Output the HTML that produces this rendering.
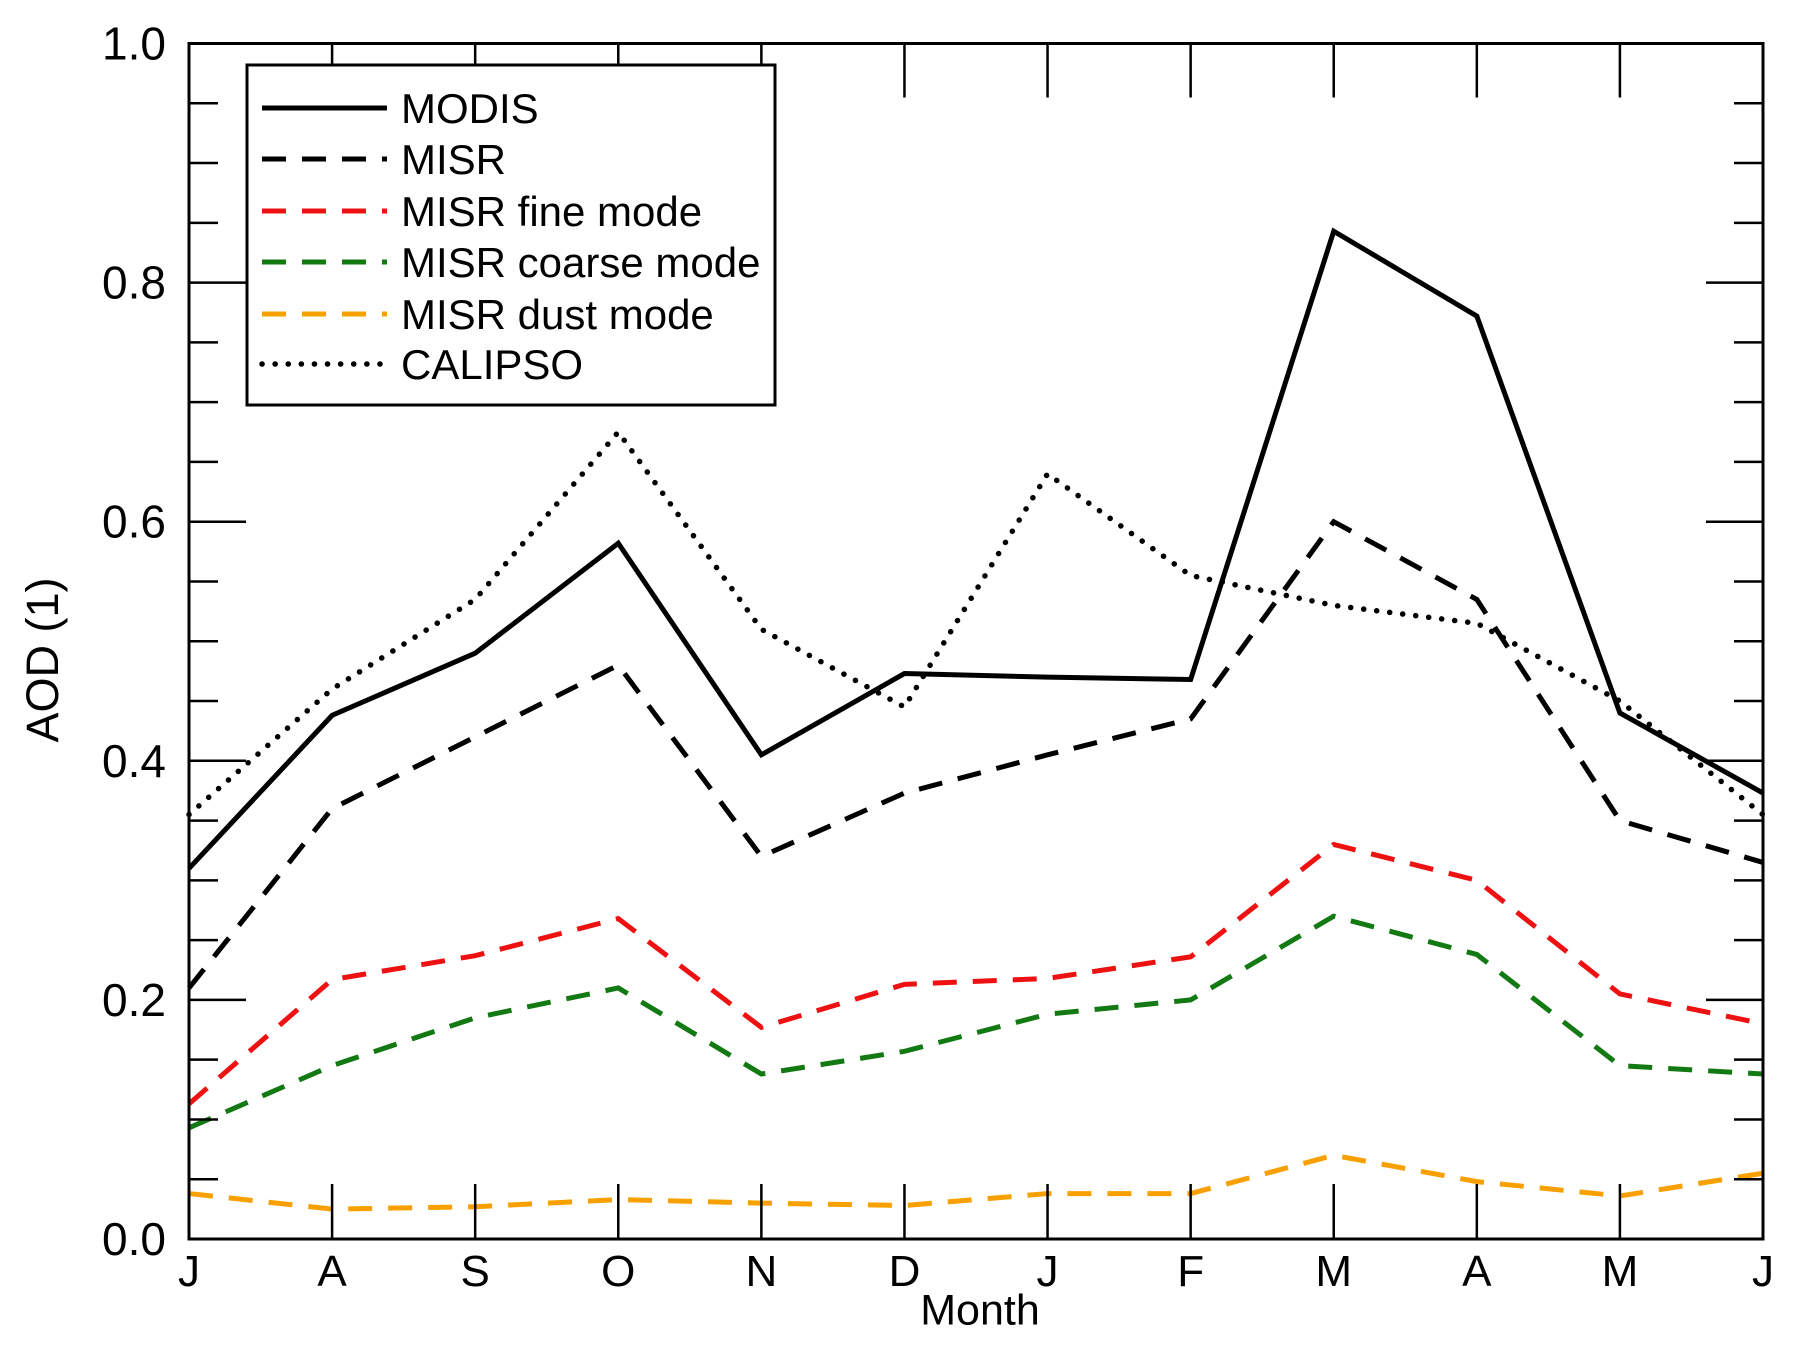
<!DOCTYPE html>
<html><head><meta charset="utf-8"><style>
html,body{margin:0;padding:0;background:#fff;}
svg{display:block;font-family:"Liberation Sans",sans-serif;}
</style></head><body>
<svg id="chart" width="1795" height="1350" viewBox="0 0 1795 1350">
<g id="marks"></g>
<g id="axes"></g>
<g>
<rect x="247" y="65" width="528" height="340" fill="#fff" stroke="#000" stroke-width="3"/>
<g id="legend"></g>
</g>
<text x="46" y="660" font-size="45" text-anchor="middle" transform="rotate(-90 46 660)" dominant-baseline="middle">AOD (1)</text>
<text x="980" y="1313" font-size="43" text-anchor="middle" dominant-baseline="middle">Month</text>
</svg>
<script>
const months = ["J","A","S","O","N","D","J","F","M","A","M","J"];
const modis = [0.31,0.438,0.49,0.582,0.405,0.473,0.47,0.468,0.843,0.772,0.44,0.373];
const misr = [0.21,0.36,0.42,0.48,0.32,0.373,0.405,0.435,0.60,0.535,0.35,0.315];
const misrFine = [0.113,0.217,0.237,0.268,0.177,0.213,0.218,0.236,0.33,0.30,0.205,0.18];
const misrCoarse = [0.093,0.145,0.185,0.21,0.138,0.157,0.188,0.2,0.27,0.238,0.145,0.138];
const misrDust = [0.038,0.025,0.027,0.033,0.03,0.028,0.038,0.038,0.07,0.048,0.036,0.055];
const calipso = [0.355,0.46,0.535,0.675,0.51,0.445,0.64,0.555,0.53,0.515,0.45,0.355];
const yTickLabels = ["0.0","0.2","0.4","0.6","0.8","1.0"];

const NS="http://www.w3.org/2000/svg";
const X0=189,X1=1763,Y0=1239,Y1=43.5;
function xs(i){return X0+(X1-X0)*i/(months.length-1);}
function ys(v){return Y0-(Y0-Y1)*v;}
function mk(tag,attrs,parent){const e=document.createElementNS(NS,tag);for(const k in attrs)e.setAttribute(k,attrs[k]);parent.appendChild(e);return e;}

const series=[
 {name:"MODIS",data:modis,color:"#000",dash:"",cap:"butt"},
 {name:"MISR",data:misr,color:"#000",dash:"24 16",cap:"butt"},
 {name:"MISR fine mode",data:misrFine,color:"#ee1111",dash:"24 16",cap:"butt"},
 {name:"MISR coarse mode",data:misrCoarse,color:"#137a13",dash:"24 16",cap:"butt"},
 {name:"MISR dust mode",data:misrDust,color:"#f7a000",dash:"24 16",cap:"butt"},
 {name:"CALIPSO",data:calipso,color:"#000",dash:"0.1 13",cap:"round"}
];
const marks=document.getElementById("marks");
series.forEach(s=>{
 const p=mk("polyline",{points:s.data.map((v,i)=>xs(i)+","+ys(v)).join(" "),fill:"none",stroke:s.color,"stroke-width":s.cap==="round"?5.5:5,"stroke-dasharray":s.dash,"stroke-linecap":s.cap,"stroke-linejoin":"miter"},marks);
 
 
});
const axes=document.getElementById("axes");
const fr=mk("rect",{x:X0,y:Y1,width:X1-X0,height:Y0-Y1,fill:"none",stroke:"#000","stroke-width":3},axes);


for(let k=0;k<=20;k++){
 const v=k*0.05,y=ys(v),L=(k%4===0)?57:29;
 mk("line",{x1:X0,y1:y,x2:X0+L,y2:y,stroke:"#000","stroke-width":2.5},axes);
 mk("line",{x1:X1,y1:y,x2:X1-L,y2:y,stroke:"#000","stroke-width":2.5},axes);
}
yTickLabels.forEach((t,i)=>{
 const e=mk("text",{x:166,y:ys(i*0.2)+16,"font-size":46,"text-anchor":"end"},axes);
 e.textContent=t;
 
 
});
months.forEach((m,i)=>{
 const x=xs(i);
 mk("line",{x1:x,y1:Y0,x2:x,y2:Y0-55,stroke:"#000","stroke-width":2.5},axes);
 mk("line",{x1:x,y1:Y1,x2:x,y2:Y1+54,stroke:"#000","stroke-width":2.5},axes);
 const e=mk("text",{x:x,y:1286,"font-size":44,"text-anchor":"middle"},axes);
 e.textContent=m;
 
 
});
const lg=document.getElementById("legend");
const rowsY=[108,159,211,262,314,364];
series.forEach((s,i)=>{
 const g=mk("g",{},lg);
 
 
 mk("line",{x1:262,y1:rowsY[i],x2:387,y2:rowsY[i],stroke:s.color,"stroke-width":s.cap==="round"?5.5:5,"stroke-dasharray":s.dash,"stroke-linecap":s.cap},g);
 const t=mk("text",{x:401,y:rowsY[i]+15,"font-size":42},g);
 t.textContent=s.name;
});
</script>
</body></html>
